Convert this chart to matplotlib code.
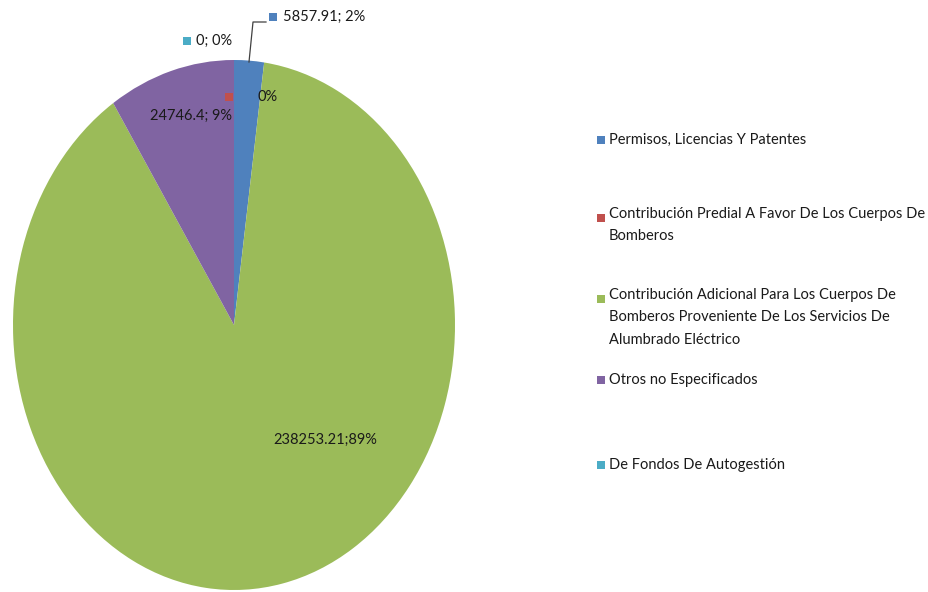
import matplotlib
matplotlib.use("Agg")
import matplotlib.pyplot as plt
from matplotlib.patches import Rectangle

categories = [
    "Permisos, Licencias Y Patentes",
    "Contribución Predial A Favor De Los Cuerpos De\nBomberos",
    "Contribución Adicional Para Los Cuerpos De\nBomberos Proveniente De Los Servicios De\nAlumbrado Eléctrico",
    "Otros no Especificados",
    "De Fondos De Autogestión",
]
values = [5857.91, 0.0, 238253.21, 24746.4, 0.0]
data_labels = ["5857.91; 2%", "0%", "238253.21;89%", "24746.4; 9%", "0; 0%"]
colors = ["#4F81BD", "#C0504D", "#9BBB59", "#8064A2", "#4BACC6"]

plt.rcParams['font.family'] = ['Lato', 'DejaVu Sans']

W, H = 929, 592
fig = plt.figure(figsize=(W / 100, H / 100), dpi=100)

# pie axes (ellipse stretched vertically)
pl, pr, pt, pb = 13, 455, 60, 590
ax = fig.add_axes([pl / W, 1 - pb / H, (pr - pl) / W, (pb - pt) / H])
ax.pie(values, colors=colors, startangle=90, counterclock=False, radius=1,
       wedgeprops=dict(linewidth=0))
ax.set_aspect('auto')
ax.set_xlim(-1, 1)
ax.set_ylim(-1, 1)
ax.axis('off')

# overlay in pixel coordinates
ov = fig.add_axes([0, 0, 1, 1])
ov.set_xlim(0, W)
ov.set_ylim(H, 0)
ov.axis('off')
ov.patch.set_alpha(0)

fs = 10.5
tc = "#1a1a1a"

def sq(x, y, c, s=7):
    ov.add_patch(Rectangle((x - s / 2, y - s / 2), s, s, color=c, lw=0))

# data labels
ov.plot([249, 253, 266], [62, 22, 22], color="#404040", lw=0.9)
sq(273, 17, colors[0], 8)
ov.text(283, 17, data_labels[0], fontsize=fs, va='center', ha='left', color=tc)
sq(187, 41, colors[4], 8)
ov.text(196, 41, data_labels[4], fontsize=fs, va='center', ha='left', color=tc)
sq(229, 97, colors[1], 8)
ov.text(258, 97, data_labels[1], fontsize=fs, va='center', ha='left', color=tc)
ov.text(150, 116, data_labels[3], fontsize=fs, va='center', ha='left', color=tc)
ov.text(273, 440, data_labels[2], fontsize=fs, va='center', ha='left', color=tc)

# legend
leg_y = [140, 218, 299, 380, 465]
for c, lab, y in zip(colors, categories, leg_y):
    sq(601, y, c, 8)
    if "\n" in lab:
        ov.text(609, y - 11, lab, fontsize=fs, va='top', ha='left', color=tc,
                linespacing=1.75)
    else:
        ov.text(609, y, lab, fontsize=fs, va='center', ha='left', color=tc)

fig.savefig("out.png", dpi=100)
